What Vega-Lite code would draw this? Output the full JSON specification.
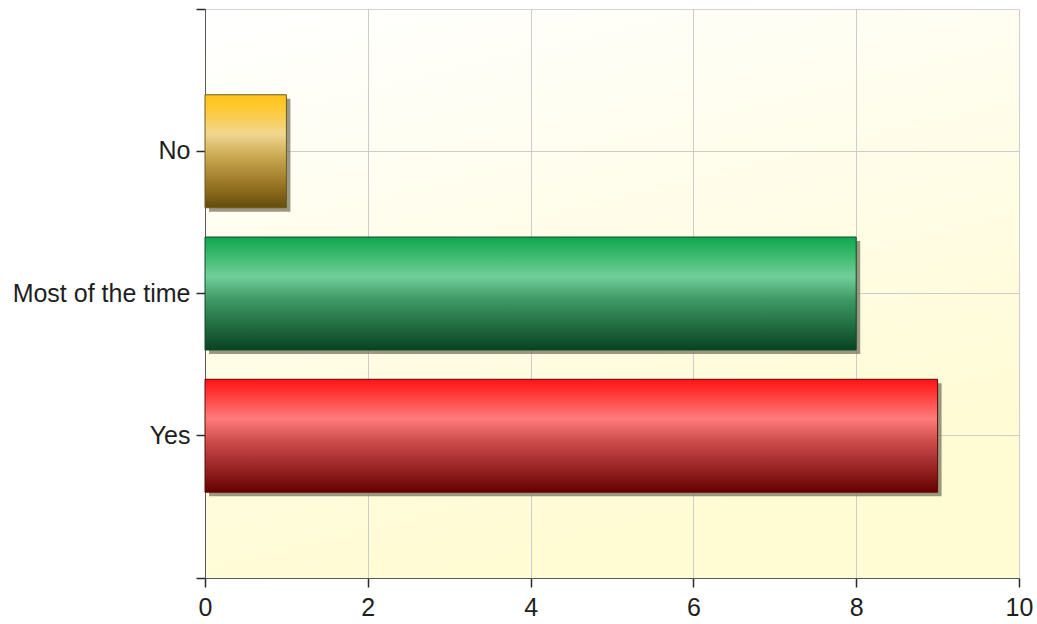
{
  "$schema": "https://vega.github.io/schema/vega-lite/v6.json",
  "autosize": "none",
  "width": 814,
  "height": 569,
  "padding": {"left": 205, "top": 9, "right": 18, "bottom": 46},
  "background": "white",
  "data": {
    "values": [
      {"answer": "No", "count": 1},
      {"answer": "Most of the time", "count": 8},
      {"answer": "Yes", "count": 9}
    ]
  },
  "layer": [
    {
      "layer": [
        {
          "mark": {
            "type": "bar",
            "fill": "#7a7660",
            "opacity": 0.75,
            "xOffset": 4,
            "x2Offset": 4,
            "yOffset": 4,
            "y2Offset": 4
          },
          "encoding": {}
        },
        {
          "transform": [{"filter": "datum.answer === 'No'"}],
          "mark": {
            "type": "bar",
            "stroke": "#6b5a20",
            "strokeWidth": 1,
            "fill": {
              "gradient": "linear", "x1": 0, "y1": 0, "x2": 0, "y2": 1,
              "stops": [
                {"offset": 0, "color": "#ffc21a"},
                {"offset": 0.12, "color": "#ffca33"},
                {"offset": 0.35, "color": "#f0d690"},
                {"offset": 0.55, "color": "#c9a850"},
                {"offset": 0.8, "color": "#977424"},
                {"offset": 1, "color": "#654c0a"}
              ]
            }
          },
          "encoding": {}
        },
        {
          "transform": [{"filter": "datum.answer === 'Most of the time'"}],
          "mark": {
            "type": "bar",
            "stroke": "#0c4a28",
            "strokeWidth": 1,
            "fill": {
              "gradient": "linear", "x1": 0, "y1": 0, "x2": 0, "y2": 1,
              "stops": [
                {"offset": 0, "color": "#10a64e"},
                {"offset": 0.12, "color": "#2fb565"},
                {"offset": 0.35, "color": "#72ce9a"},
                {"offset": 0.55, "color": "#3f9a66"},
                {"offset": 0.8, "color": "#1f6a40"},
                {"offset": 1, "color": "#0a4222"}
              ]
            }
          },
          "encoding": {}
        },
        {
          "transform": [{"filter": "datum.answer === 'Yes'"}],
          "mark": {
            "type": "bar",
            "stroke": "#5a0a0a",
            "strokeWidth": 1,
            "fill": {
              "gradient": "linear", "x1": 0, "y1": 0, "x2": 0, "y2": 1,
              "stops": [
                {"offset": 0, "color": "#ff1414"},
                {"offset": 0.12, "color": "#ff3535"},
                {"offset": 0.35, "color": "#ff7c7c"},
                {"offset": 0.55, "color": "#cc4b4b"},
                {"offset": 0.8, "color": "#962222"},
                {"offset": 1, "color": "#640000"}
              ]
            }
          },
          "encoding": {}
        }
      ],
      "encoding": {
        "x": {
          "field": "count",
          "type": "quantitative",
          "scale": {"domain": [0, 10], "nice": false, "zero": true},
          "axis": {
            "values": [0, 2, 4, 6, 8, 10],
            "title": null,
            "grid": true,
            "labelFlush": false,
            "labelPadding": 8
          }
        },
        "y": {
          "field": "answer",
          "type": "nominal",
          "sort": ["No", "Most of the time", "Yes"],
          "scale": {"paddingInner": 0.206, "paddingOuter": 0.603},
          "axis": {
            "title": null,
            "grid": true,
            "bandPosition": 0.5,
            "domain": true,
            "labelPadding": 6
          }
        }
      }
    },
    {
      "mark": {"type": "point", "opacity": 0},
      "encoding": {
        "y": {
          "datum": 0,
          "type": "quantitative",
          "scale": {"domain": [0, 1], "nice": false},
          "axis": {
            "orient": "left",
            "values": [0, 1],
            "labels": false,
            "grid": false,
            "domain": false,
            "title": null
          }
        }
      }
    }
  ],
  "resolve": {"scale": {"y": "independent"}, "axis": {"y": "independent"}},
  "config": {
    "view": {
      "stroke": "#d4d4d4",
      "strokeWidth": 1,
      "fill": {
        "gradient": "linear", "x1": 0, "y1": 0, "x2": 0.35, "y2": 1,
        "stops": [
          {"offset": 0, "color": "#ffffff"},
          {"offset": 1, "color": "#fffbd2"}
        ]
      }
    },
    "axis": {
      "labelFont": "Liberation Sans",
      "labelFontSize": 25,
      "labelColor": "#1e1e1e",
      "domainColor": "#5a5a5a",
      "domainWidth": 1,
      "tickColor": "#2a2a2a",
      "tickSize": 9,
      "tickWidth": 1.5,
      "gridColor": "#cccccc",
      "gridWidth": 1
    }
  }
}
